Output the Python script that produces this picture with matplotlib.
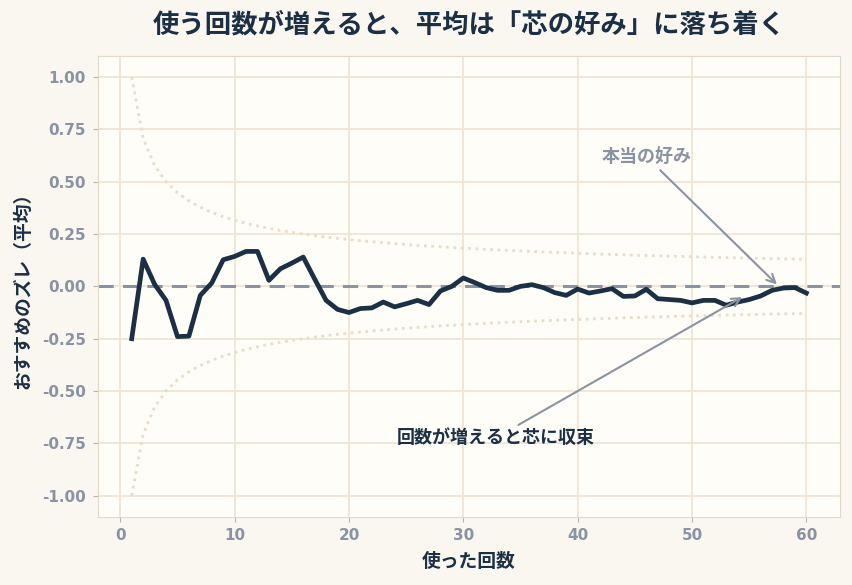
import numpy as np
import matplotlib
matplotlib.use('Agg')
import matplotlib.pyplot as plt

plt.rcParams['font.family'] = ['DejaVu Sans', 'Noto Sans CJK JP']

# 使った回数ごとの平均のズレ
n = np.arange(1, 61)
mean_err = [-0.25, 0.13, 0.01, -0.067, -0.24, -0.238, -0.043, 0.016, 0.127, 0.143,
            0.167, 0.167, 0.029, 0.084, 0.111, 0.14, 0.035, -0.067, -0.11, -0.125,
            -0.106, -0.103, -0.075, -0.098, -0.083, -0.067, -0.087, -0.022, 0.0, 0.04,
            0.018, -0.006, -0.019, -0.019, 0.0, 0.008, -0.006, -0.03, -0.043, -0.013,
            -0.032, -0.022, -0.011, -0.048, -0.046, -0.014, -0.059, -0.063, -0.067, -0.079,
            -0.067, -0.067, -0.09, -0.075, -0.063, -0.046, -0.019, -0.008, -0.006, -0.032]
# 理論上の幅 (±1/√n)
bound = 1 / np.sqrt(n)
yticks = [-1.0, -0.75, -0.5, -0.25, 0.0, 0.25, 0.5, 0.75, 1.0]

navy = '#1b2f45'
gray = '#8a93a3'

fig, ax = plt.subplots(figsize=(8.52, 5.85), dpi=100)
fig.patch.set_facecolor('#faf6f0')
ax.set_facecolor('#fffdf7')

ax.plot(n, bound, color='#e8dccb', linestyle=':', linewidth=2)
ax.plot(n, -bound, color='#e8dccb', linestyle=':', linewidth=2)
ax.axhline(0, color=gray, linestyle='--', linewidth=2.2, dashes=(5, 3))
ax.plot(n, mean_err, color=navy, linewidth=3.4, zorder=3)

ax.grid(True, color='#efe5d5', linewidth=1.3)
ax.set_axisbelow(True)
for s in ax.spines.values():
    s.set_color('#e3d9c8')
ax.tick_params(colors='#b9b4ab', labelcolor=gray, labelsize=11, pad=5)
ax.set_yticks(yticks)
ax.set_yticklabels([f'{v:.2f}' for v in yticks], fontweight='bold')
for lab in ax.get_xticklabels():
    lab.set_fontweight('bold')

ax.set_title('使う回数が増えると、平均は「芯の好み」に落ち着く', fontsize=19,
             fontweight='bold', color=navy, pad=17)
ax.set_xlabel('使った回数', fontsize=13.5, fontweight='bold', color=navy, labelpad=6)
ax.set_ylabel('おすすめのズレ（平均）', fontsize=13.5, fontweight='bold', color=navy, labelpad=7)

ax.annotate('本当の好み', xy=(57.6, 0.0), xytext=(46, 0.62), ha='center', va='center',
            fontsize=13, fontweight='bold', color=gray,
            arrowprops=dict(arrowstyle='->', color=gray, lw=1.5, mutation_scale=15))
ax.annotate('回数が増えると芯に収束', xy=(54.6, -0.045), xytext=(32.8, -0.725),
            ha='center', va='center', fontsize=13, fontweight='bold', color=navy,
            arrowprops=dict(arrowstyle='->', color=gray, lw=1.5, mutation_scale=15))

plt.subplots_adjust(left=0.115, right=0.986, top=0.904, bottom=0.117)
plt.savefig('out.png')
